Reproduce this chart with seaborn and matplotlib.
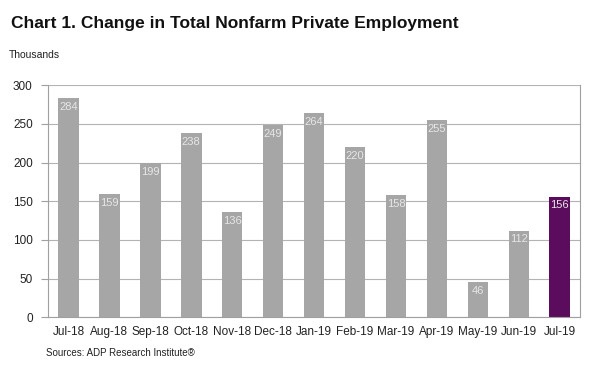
import numpy as np
import pandas as pd
import matplotlib
matplotlib.use("Agg")
import matplotlib.pyplot as plt
import seaborn as sns

months = ["Jul-18", "Aug-18", "Sep-18", "Oct-18", "Nov-18", "Dec-18", "Jan-19",
          "Feb-19", "Mar-19", "Apr-19", "May-19", "Jun-19", "Jul-19"]
change = [284, 159, 199, 238, 136, 249, 264, 220, 158, 255, 46, 112, 156]

sns.set_style("white")
plt.rcParams["font.family"] = ["Liberation Sans", "DejaVu Sans"]

df = pd.DataFrame({"month": months, "change": change})
colors = ["#a6a6a6"] * (len(months) - 1) + ["#5c0c5c"]

fig = plt.figure(figsize=(6, 3.79), dpi=100)
ax = fig.add_axes([0.08, 0.163, 0.887, 0.612])

sns.barplot(data=df, x="month", y="change", hue="month", palette=colors,
            legend=False, width=0.5, saturation=1, linewidth=0, ax=ax, zorder=2)

for i, v in enumerate(change):
    ax.text(i, v - 5, str(v), ha="center", va="top", fontsize=8,
            color="#e6e6e6", zorder=3)

ax.set_ylim(0, 300)
ax.set_xlim(-0.5, len(months) - 0.5)
ax.set_yticks(range(0, 301, 50))
ax.yaxis.grid(True, color="#b3b3b3", linewidth=0.8, zorder=0)
ax.set_axisbelow(True)
ax.set_xlabel("")
ax.set_ylabel("")

for s in ["left", "bottom", "right"]:
    ax.spines[s].set_color("#a0a0a0")
    ax.spines[s].set_linewidth(0.8)
ax.spines["top"].set_visible(False)

ax.set_xticks(np.arange(len(months)))
ax.set_xticklabels(months)
ax.set_xticks(np.arange(len(months) + 1) - 0.5, minor=True)
ax.tick_params(axis="x", which="major", length=0, pad=6, labelsize=8.5, labelcolor="#222222")
ax.tick_params(axis="x", which="minor", length=4, color="#a0a0a0", width=0.8, direction="out")
ax.tick_params(axis="y", length=5, color="#a0a0a0", width=0.8, labelsize=8.5,
               labelcolor="#222222", pad=6, left=True)

fig.text(0.018, 0.937, "Chart 1. Change in Total Nonfarm Private Employment",
         fontsize=12.5, fontweight="bold", color="#111111", va="center")
fig.text(0.015, 0.855, "Thousands", fontsize=7.5, color="#222222", va="center")
fig.text(0.077, 0.068, "Sources: ADP Research Institute\u00ae", fontsize=7,
         color="#222222", va="center")

fig.savefig("out.png", dpi=100)
